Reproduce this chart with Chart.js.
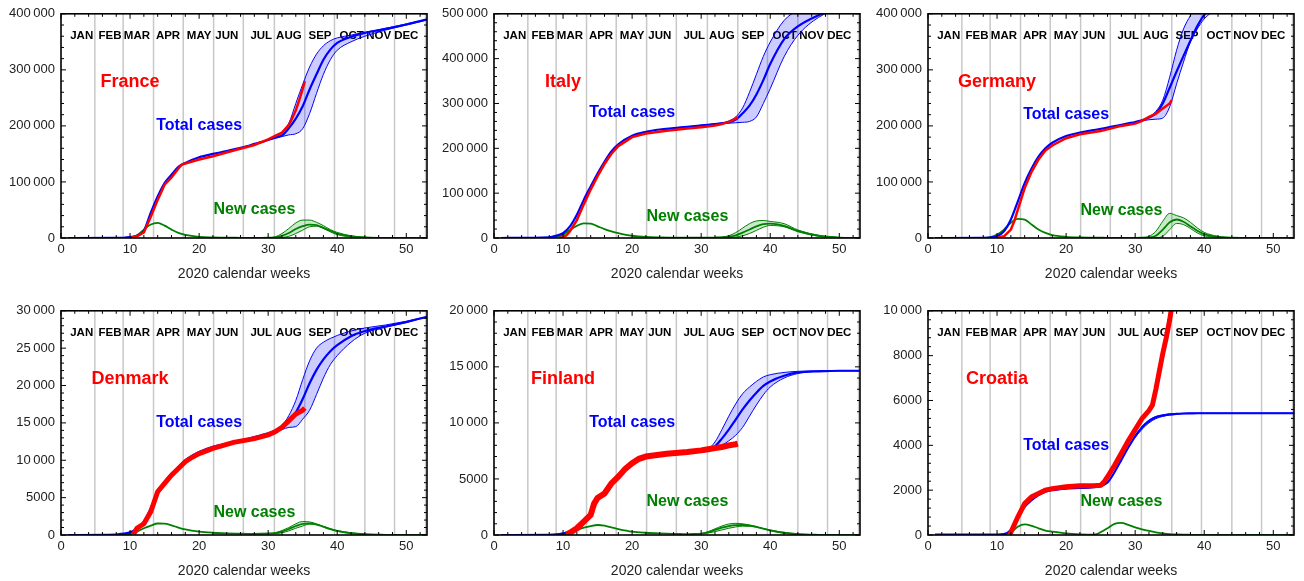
<!DOCTYPE html>
<html>
<head>
<meta charset="utf-8">
<script src="https://cdn.jsdelivr.net/npm/chart.js@4.4.1/dist/chart.umd.min.js"></script>
<style>
  html, body { margin: 0; padding: 0; background: #fff; }
  body { width: 1304px; height: 581px; position: relative; overflow: hidden; }
  canvas { position: absolute; }
</style>
</head>
<body>
<canvas id="c0" width="434" height="284" style="left:0px;top:0px"></canvas>
<canvas id="c1" width="434" height="284" style="left:433px;top:0px"></canvas>
<canvas id="c2" width="434" height="284" style="left:867px;top:0px"></canvas>
<canvas id="c3" width="434" height="284" style="left:0px;top:297px"></canvas>
<canvas id="c4" width="434" height="284" style="left:433px;top:297px"></canvas>
<canvas id="c5" width="434" height="284" style="left:867px;top:297px"></canvas>
<script>
// week grids of the model curves
const weeks = [1, 8, 9, 10, 11, 12, 13, 14, 15, 16, 17, 18, 20, 22, 24, 26, 27, 28, 29, 30, 31, 32, 33, 34, 35, 36, 37, 38, 39, 40, 42, 44, 47, 50, 53];
const bandWeeks = [30, 31, 32, 33, 34, 35, 36, 37, 38, 39, 40, 42, 44, 47, 50, 53];

const monthNames = ["JAN", "FEB", "MAR", "APR", "MAY", "JUN", "JUL", "AUG", "SEP", "OCT", "NOV", "DEC"];
const monthEnds = [4.9, 9.0, 13.4, 17.7, 22.1, 26.4, 30.9, 35.3, 39.6, 44.0, 48.3, 52.8];
const monthLabelWeeks = [3.0, 7.1, 11.0, 15.5, 20.0, 24.0, 29.0, 33.0, 37.5, 42.1, 46.0, 50.0];

// France
const franceTotal = [0, 100, 400, 1500, 4000, 13000, 45000, 74000, 98000, 113000, 127000, 134000, 144000, 150000, 155000, 161000, 164000, 168000, 171000, 175000, 179000, 183000, 196000, 213000, 235000, 265000, 292000, 318000, 336000, 348000, 359000, 366000, 373000, 381000, 390000];
const franceTotalHi = [175000, 180000, 188000, 205000, 240000, 274000, 305000, 328000, 343000, 352000, 357000, 362000, 367000, 374000, 382000, 390000];
const franceTotalLo = [175000, 178000, 181000, 184000, 186000, 195000, 222000, 258000, 292000, 318000, 335000, 350000, 360000, 371000, 380000, 389000];
const franceNew = [0, 0, 200, 1000, 5000, 15000, 24000, 27000, 22000, 15000, 9000, 5500, 2000, 1000, 600, 400, 300, 300, 300, 500, 1000, 4000, 9000, 16000, 21000, 24000, 23000, 18000, 13000, 8000, 3000, 1000, 200, 0, 0];
const franceNewHi = [500, 2000, 8000, 17000, 27000, 32000, 32000, 28000, 22000, 15000, 10000, 4000, 1500, 300, 0, 0];
const franceNewLo = [500, 300, 1000, 3000, 8000, 14000, 20000, 21000, 17000, 11000, 6000, 2000, 500, 100, 0, 0];
const franceDataWeeks = [10, 11, 12, 13, 14, 15, 16, 17, 17.5, 18, 20, 22, 25, 28, 30, 31, 32, 33, 33.5, 34, 34.5, 35, 35.3];
const franceDataCases = [0, 3000, 10000, 38000, 68000, 95000, 108000, 124000, 131000, 133000, 140000, 146000, 156000, 166000, 176000, 182000, 188000, 202000, 214000, 228000, 246000, 266000, 280000];

// Italy
const italyTotal = [0, 1500, 5000, 11000, 26000, 52000, 85000, 115000, 144000, 170000, 193000, 209000, 228000, 237000, 242000, 245000, 246500, 248000, 249500, 251000, 252500, 254000, 255500, 258000, 264000, 278000, 295000, 320000, 352000, 388000, 443000, 472000, 497000, 515000, 528000];
const italyTotalHi = [251000, 252500, 254500, 257000, 261000, 270000, 290000, 325000, 365000, 405000, 437000, 485000, 508000, 525000, 535000, 540000];
const italyTotalLo = [251000, 252000, 253500, 255000, 256000, 257000, 258000, 260000, 270000, 300000, 333000, 404000, 452000, 492000, 512000, 525000];
const italyNew = [0, 500, 2000, 7000, 18000, 27000, 32500, 32000, 26000, 20000, 15000, 11000, 5000, 2200, 1300, 1000, 900, 800, 700, 700, 800, 1000, 1500, 3000, 6000, 12000, 19000, 26000, 31000, 32000, 27000, 16000, 5000, 1000, 0];
const italyNewHi = [700, 800, 1200, 2000, 5000, 12000, 22000, 32000, 38000, 39000, 37000, 32000, 18000, 6000, 1000, 0];
const italyNewLo = [700, 700, 800, 1000, 1000, 2000, 5000, 10000, 17000, 24000, 28000, 25000, 14000, 4000, 700, 0];
const italyDataWeeks = [9.5, 10, 10.5, 11, 12, 13, 14, 15, 16, 17, 18, 20, 22, 25, 28, 30, 32, 33, 34, 35, 35.3];
const italyDataCases = [0, 2000, 6000, 15000, 40000, 75000, 108000, 138000, 165000, 188000, 205000, 225000, 233000, 239000, 244000, 247000, 251000, 254000, 259000, 266000, 270000];

// Germany
const germanyTotal = [0, 200, 800, 3000, 12000, 33000, 65000, 98000, 124000, 145000, 160000, 170000, 182000, 188000, 192500, 197000, 199500, 202000, 204500, 207000, 210000, 215000, 222000, 240000, 268000, 297000, 325000, 352000, 378000, 398000, 420000, 435000, 448000, 455000, 460000];
const germanyTotalHi = [207000, 210000, 216000, 226000, 246000, 287000, 335000, 373000, 397000, 420000, 435000, 450000, 458000, 462000, 465000, 467000];
const germanyTotalLo = [207000, 209000, 211000, 212000, 214000, 234000, 275000, 314000, 350000, 373000, 391000, 410000, 425000, 440000, 450000, 455000];
const germanyNew = [0, 300, 1500, 6000, 15000, 27000, 34000, 33000, 24000, 15000, 9000, 5000, 2000, 1000, 600, 400, 300, 300, 300, 300, 500, 1000, 4000, 15000, 28000, 33000, 29000, 21000, 13000, 7000, 2000, 500, 0, 0, 0];
const germanyNewHi = [300, 800, 3000, 12000, 30000, 44000, 40000, 36000, 28000, 18000, 10000, 3000, 800, 0, 0, 0];
const germanyNewLo = [300, 300, 300, 500, 3000, 15000, 26000, 24000, 17000, 9000, 4000, 1000, 200, 0, 0, 0];
const germanyDataWeeks = [10, 11, 12, 12.5, 13, 14, 15, 16, 17, 18, 20, 22, 25, 28, 30, 31, 32, 33, 34, 35, 35.3];
const germanyDataCases = [0, 3000, 15000, 30000, 50000, 89000, 118000, 140000, 156000, 165000, 178000, 185000, 191000, 200000, 204000, 209000, 216000, 222000, 231000, 240000, 246000];

// Denmark
const denmarkTotal = [0, 50, 200, 350, 900, 1800, 3600, 5800, 7100, 8200, 9100, 10000, 11100, 11800, 12200, 12600, 12850, 13100, 13350, 13600, 13900, 14400, 15200, 16400, 18200, 20300, 22100, 23500, 24600, 25400, 26600, 27300, 27900, 28500, 29200];
const denmarkTotalHi = [13600, 13950, 14600, 16000, 18000, 20800, 23300, 25000, 25800, 26300, 26700, 27300, 27700, 28100, 28600, 29200];
const denmarkTotalLo = [13600, 13800, 14100, 14400, 14500, 15500, 16700, 18800, 21000, 22800, 24000, 25800, 27000, 27800, 28400, 29200];
const denmarkNew = [0, 20, 50, 80, 450, 900, 1250, 1540, 1520, 1300, 1000, 750, 450, 300, 220, 180, 160, 150, 170, 200, 250, 450, 800, 1200, 1500, 1550, 1400, 1100, 800, 550, 250, 100, 30, 0, 0];
const denmarkNewHi = [200, 300, 600, 1000, 1500, 1800, 1750, 1500, 1150, 800, 500, 200, 80, 20, 0, 0];
const denmarkNewLo = [200, 200, 300, 550, 900, 1200, 1450, 1400, 1150, 850, 600, 300, 120, 30, 0, 0];
const denmarkDataWeeks = [10.5, 11, 12, 13, 14, 15, 16, 17, 18, 19, 20, 22, 25, 28, 30, 31, 32, 33, 34, 35, 35.3];
const denmarkDataCases = [100, 900, 1500, 3100, 5800, 6900, 8000, 8900, 9800, 10400, 10900, 11600, 12400, 12900, 13400, 13800, 14400, 15300, 16200, 16700, 17000];

// Finland
const finlandTotal = [0, 20, 50, 150, 300, 650, 1200, 1800, 3300, 3800, 4600, 5200, 6400, 7000, 7150, 7250, 7300, 7350, 7400, 7450, 7550, 7900, 8600, 9400, 10300, 11200, 12000, 12700, 13300, 13700, 14200, 14500, 14600, 14650, 14650];
const finlandTotalHi = [7450, 7650, 8300, 9400, 10600, 11700, 12600, 13200, 13700, 14100, 14300, 14500, 14600, 14650, 14650, 14650];
const finlandTotalLo = [7450, 7500, 7700, 8000, 8400, 8900, 9600, 10600, 11600, 12500, 13200, 14000, 14400, 14600, 14650, 14650];
const finlandNew = [0, 10, 20, 40, 240, 450, 650, 800, 890, 830, 680, 530, 300, 200, 140, 100, 90, 80, 90, 120, 240, 450, 650, 800, 880, 890, 830, 720, 560, 420, 200, 80, 20, 0, 0];
const finlandNewHi = [120, 300, 550, 800, 980, 1040, 1000, 900, 750, 550, 380, 150, 50, 10, 0, 0];
const finlandNewLo = [120, 180, 300, 450, 600, 720, 790, 780, 700, 580, 450, 230, 100, 20, 0, 0];
const finlandDataWeeks = [10.5, 11, 12, 13, 14, 14.5, 15, 16, 17, 18, 19, 20, 21, 22, 25, 28, 30, 31, 32, 33, 34, 35, 35.3];
const finlandDataCases = [50, 200, 600, 1200, 1800, 2800, 3300, 3700, 4600, 5200, 5900, 6400, 6800, 7000, 7250, 7400, 7550, 7650, 7750, 7850, 8000, 8100, 8150];

// Croatia
const croatiaTotal = [20, 20, 20, 20, 40, 220, 800, 1260, 1550, 1780, 1930, 2000, 2070, 2100, 2130, 2350, 2800, 3350, 3900, 4400, 4800, 5080, 5250, 5330, 5380, 5400, 5420, 5425, 5430, 5430, 5430, 5430, 5430, 5430, 5430];
const croatiaTotalHi = [4450, 4850, 5130, 5290, 5360, 5400, 5415, 5425, 5430, 5430, 5430, 5430, 5430, 5430, 5430, 5430];
const croatiaTotalLo = [4350, 4720, 5000, 5190, 5290, 5350, 5385, 5410, 5420, 5428, 5430, 5430, 5430, 5430, 5430, 5430];
const croatiaNew = [0, 0, 0, 0, 30, 120, 370, 470, 410, 300, 200, 150, 70, 30, 15, 300, 500, 540, 450, 340, 250, 180, 120, 75, 40, 25, 15, 10, 5, 0, 0, 0, 0, 0, 0];
const croatiaDataWeeks = [11.8, 12, 13, 14, 15, 16, 17, 18, 20, 22, 24, 25, 25.5, 26, 27, 28, 29, 30, 31, 32, 32.5, 33, 33.5, 34, 34.5, 35, 35.3];
const croatiaDataCases = [30, 120, 800, 1400, 1700, 1850, 2000, 2070, 2150, 2200, 2200, 2220, 2370, 2600, 3100, 3650, 4200, 4700, 5200, 5550, 5800, 6500, 7300, 8100, 8800, 9600, 10200];

const BLUE = "#0000ff";
const RED = "#ff0000";
const GREEN = "rgb(0,128,0)";
const FONT = '"Liberation Sans", Arial, sans-serif';

const panels = [
  { id: "c0", name: "France", total: franceTotal, totalHi: franceTotalHi, totalLo: franceTotalLo,
    newC: franceNew, newHi: franceNewHi, newLo: franceNewLo, dw: franceDataWeeks, dc: franceDataCases,
    yMax: 400000, yStep: 100000, redWidth: 2.5, nameY: 278000, totalY: 200000, newY: 50000 },
  { id: "c1", name: "Italy", total: italyTotal, totalHi: italyTotalHi, totalLo: italyTotalLo,
    newC: italyNew, newHi: italyNewHi, newLo: italyNewLo, dw: italyDataWeeks, dc: italyDataCases,
    yMax: 500000, yStep: 100000, redWidth: 2.5, nameY: 347000, totalY: 279000, newY: 48000 },
  { id: "c2", name: "Germany", total: germanyTotal, totalHi: germanyTotalHi, totalLo: germanyTotalLo,
    newC: germanyNew, newHi: germanyNewHi, newLo: germanyNewLo, dw: germanyDataWeeks, dc: germanyDataCases,
    yMax: 400000, yStep: 100000, redWidth: 2.5, nameY: 278000, totalY: 220000, newY: 49000 },
  { id: "c3", name: "Denmark", total: denmarkTotal, totalHi: denmarkTotalHi, totalLo: denmarkTotalLo,
    newC: denmarkNew, newHi: denmarkNewHi, newLo: denmarkNewLo, dw: denmarkDataWeeks, dc: denmarkDataCases,
    yMax: 30000, yStep: 5000, redWidth: 5, nameY: 20900, totalY: 15000, newY: 3000 },
  { id: "c4", name: "Finland", total: finlandTotal, totalHi: finlandTotalHi, totalLo: finlandTotalLo,
    newC: finlandNew, newHi: finlandNewHi, newLo: finlandNewLo, dw: finlandDataWeeks, dc: finlandDataCases,
    yMax: 20000, yStep: 5000, redWidth: 6, nameY: 13900, totalY: 10000, newY: 3000 },
  { id: "c5", name: "Croatia", total: croatiaTotal, totalHi: croatiaTotalHi, totalLo: croatiaTotalLo,
    newC: croatiaNew, newHi: null, newLo: null, dw: croatiaDataWeeks, dc: croatiaDataCases,
    yMax: 10000, yStep: 2000, redWidth: 5, nameY: 6960, totalY: 4000, newY: 1500 },
];

function pts(xs, ys) {
  return xs.map((x, i) => ({ x: x, y: ys[i] }));
}

function fmt(v) {
  if (v < 10000) return String(v);
  return String(v).replace(/\B(?=(\d{3})+(?!\d))/g, "\u2009");
}

// month grid lines, frame with inward ticks, and the text labels
const decorPlugin = {
  id: "decor",
  beforeDatasetsDraw(chart) {
    const { ctx, chartArea: a, scales: { x } } = chart;
    ctx.save();
    ctx.strokeStyle = "#c8c8c8";
    ctx.lineWidth = 1.5;
    monthEnds.forEach(w => {
      const px = x.getPixelForValue(w);
      ctx.beginPath();
      ctx.moveTo(px, a.top);
      ctx.lineTo(px, a.bottom);
      ctx.stroke();
    });
    ctx.fillStyle = "#000";
    ctx.font = "bold 11.5px " + FONT;
    ctx.textAlign = "center";
    ctx.textBaseline = "middle";
    monthNames.forEach((m, i) => {
      ctx.fillText(m, x.getPixelForValue(monthLabelWeeks[i]), a.top + 22);
    });
    ctx.restore();
  },
  afterDatasetsDraw(chart) {
    const { ctx, chartArea: a, scales: { x, y } } = chart;
    const p = chart.options.plugins.decor;
    ctx.save();
    ctx.strokeStyle = "#000";
    ctx.lineWidth = 1;
    const minor = p.yStep / 5;
    for (let i = 0; i * minor <= y.max + 1e-6; i++) {
      const py = y.getPixelForValue(i * minor);
      const L = i % 5 === 0 ? 5 : 3;
      ctx.beginPath();
      ctx.moveTo(a.left, py); ctx.lineTo(a.left + L, py);
      ctx.moveTo(a.right, py); ctx.lineTo(a.right - L, py);
      ctx.stroke();
    }
    for (let w = 0; w <= 53; w += 2) {
      const px = x.getPixelForValue(w);
      const L = w % 10 === 0 ? 5 : 3;
      ctx.beginPath();
      ctx.moveTo(px, a.bottom); ctx.lineTo(px, a.bottom - L);
      ctx.moveTo(px, a.top); ctx.lineTo(px, a.top + L);
      ctx.stroke();
    }
    ctx.lineWidth = 1.6;
    ctx.strokeRect(a.left, a.top, a.right - a.left, a.bottom - a.top);

    ctx.textAlign = "center";
    ctx.textBaseline = "middle";
    ctx.font = "bold 18px " + FONT;
    ctx.fillStyle = RED;
    ctx.fillText(p.name, x.getPixelForValue(10), y.getPixelForValue(p.nameY));
    ctx.font = "bold 16px " + FONT;
    ctx.fillStyle = BLUE;
    ctx.fillText("Total cases", x.getPixelForValue(20), y.getPixelForValue(p.totalY));
    ctx.fillStyle = GREEN;
    ctx.fillText("New cases", x.getPixelForValue(28), y.getPixelForValue(p.newY));
    ctx.restore();
  }
};

panels.forEach(p => {
  const curve = { pointRadius: 0, cubicInterpolationMode: "monotone", fill: false };
  const datasets = [
    { data: pts(p.dw, p.dc), borderColor: RED, borderWidth: p.redWidth, pointRadius: 0, tension: 0, fill: false },
    Object.assign({ data: pts(weeks, p.total), borderColor: BLUE, borderWidth: 2.2 }, curve),
    Object.assign({ data: pts(bandWeeks, p.totalHi), borderColor: BLUE, borderWidth: 1 }, curve,
      { fill: "+1", backgroundColor: "rgba(0,0,255,0.2)" }),
    Object.assign({ data: pts(bandWeeks, p.totalLo), borderColor: BLUE, borderWidth: 1 }, curve),
    Object.assign({ data: pts(weeks, p.newC), borderColor: GREEN, borderWidth: 1.8 }, curve),
  ];
  if (p.newHi) {
    datasets.push(Object.assign({ data: pts(bandWeeks, p.newHi), borderColor: GREEN, borderWidth: 1 }, curve,
      { fill: "+1", backgroundColor: "rgba(0,140,0,0.2)" }));
    datasets.push(Object.assign({ data: pts(bandWeeks, p.newLo), borderColor: GREEN, borderWidth: 1 }, curve));
  }

  new Chart(document.getElementById(p.id), {
    type: "line",
    data: { datasets: datasets },
    plugins: [decorPlugin],
    options: {
      responsive: false,
      animation: false,
      layout: { padding: { left: 0, right: 7, top: 13, bottom: 0 } },
      plugins: {
        legend: { display: false },
        tooltip: { enabled: false },
        decor: { name: p.name, yStep: p.yStep, nameY: p.nameY, totalY: p.totalY, newY: p.newY },
      },
      scales: {
        x: {
          type: "linear",
          min: 0,
          max: 53,
          grid: { display: false, drawTicks: false },
          border: { display: false },
          afterFit: s => { s.height = 46; },
          ticks: {
            stepSize: 10,
            includeBounds: false,
            maxRotation: 0,
            padding: 4,
            color: "#222",
            font: { family: FONT, size: 13 },
          },
          title: {
            display: true,
            text: "2020 calendar weeks",
            color: "#222",
            font: { family: FONT, size: 14 },
            padding: { top: 0, bottom: 1 },
          },
        },
        y: {
          min: 0,
          max: p.yMax,
          grid: { display: false, drawTicks: false },
          border: { display: false },
          afterFit: s => { s.width = 61; },
          ticks: {
            stepSize: p.yStep,
            includeBounds: false,
            padding: 6,
            color: "#222",
            font: { family: FONT, size: 13 },
            callback: v => fmt(v),
          },
        },
      },
    },
  });
});
</script>
</body>
</html>
